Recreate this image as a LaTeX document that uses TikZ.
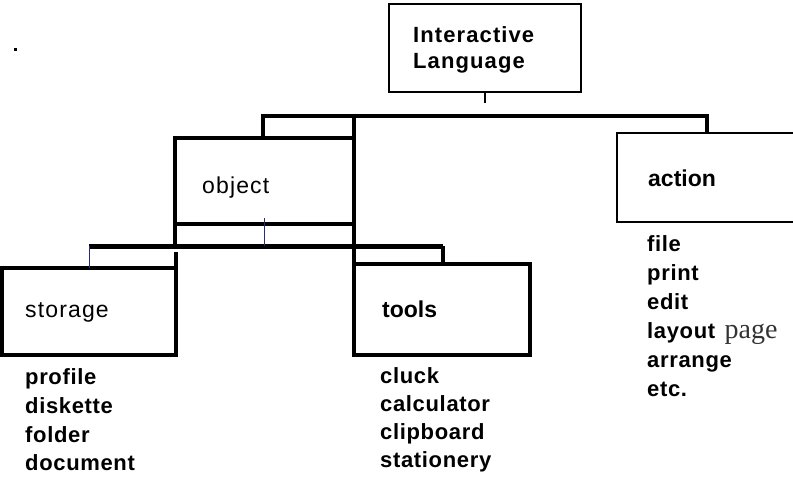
\documentclass[tikz,border=0pt]{standalone}
\usepackage{fontspec}
\setmainfont{Liberation Sans}
\newfontfamily\spacedfont{Liberation Sans}[LetterSpace=5]
\newfontfamily\listfont{Liberation Sans}[LetterSpace=3]
\newfontfamily\seriffont{Liberation Serif}
\definecolor{inkblue}{HTML}{2A2A7A}
\tikzset{
  frame/.style={draw, line width=#1, inner sep=0pt, outer sep=0pt, anchor=north west},
  heavy/.style={line width=4pt},
  heavier/.style={line width=5pt},
  hair/.style={line width=1pt, draw=inkblue},
  tickline/.style={line width=1.3pt},
  titlelabel/.style={anchor=base west, inner sep=0pt, font=\spacedfont\bfseries\fontsize{22}{26}\selectfont},
  boxlabel/.style={anchor=base west, inner sep=0pt, font=\spacedfont\fontsize{23}{26}\selectfont},
  boldlabel/.style={anchor=base west, inner sep=0pt, font=\bfseries\fontsize{23}{26}\selectfont},
  item/.style={anchor=base west, inner sep=0pt, font=\listfont\bfseries\fontsize{22}{29}\selectfont},
}
\begin{document}
\begin{tikzpicture}[x=1pt, y=-1pt]
  \useasboundingbox[fill=white] (0,0) rectangle (793,482);

  % stray mark at upper left
  \fill (13.5,47.5) rectangle (16.5,50.5);

  % boxes
  \node[frame=2pt, minimum width=192pt, minimum height=88pt] (top) at (389,4) {};
  \node[frame=4pt, minimum width=179pt, minimum height=86pt] (obj) at (175,138) {};
  \node[inner sep=0pt, outer sep=0pt, anchor=north west, minimum width=176pt, minimum height=89pt] (act) at (617,133) {};
  \node[frame=4pt, minimum width=174.5pt, minimum height=87pt] (store) at (1.5,268) {};
  \node[frame=4pt, minimum width=176pt, minimum height=91pt] (tools) at (354,264) {};

  % action box, open towards the right edge
  \draw[line width=2.5pt] (act.north east) -- (act.north west) -- (act.south west) -- (act.south east);

  % labels inside the boxes
  \node[titlelabel] (tl1) at (413,42) {Interactive};
  \node[titlelabel] (tl2) at (413,68) {Language};
  \node[boxlabel] (objlbl) at (202,193) {object};
  \node[boldlabel] (actlbl) at (648,186) {action};
  \node[boxlabel] (storelbl) at (25,317) {storage};
  \node[boldlabel] (toolslbl) at (382,317) {tools};

  % connectors from the top box
  \coordinate (tickend) at (485,103);
  \draw[tickline] (top.south) -- (tickend);
  \coordinate (busL) at (263,116);
  \coordinate (busR) at (707,116);
  \draw[heavy] (obj.north -| busL) -- (busL) -- (busR) -- (act.north -| busR);
  \draw[heavy] (busL -| obj.east) -- (tools.north west);

  % connectors below the object box
  \coordinate (lbL) at (89,246);
  \coordinate (lbR) at (443,246);
  \draw[heavier] (lbL) -- (lbR);
  \draw[heavy] (lbR) -- (tools.north -| lbR);
  \draw[heavy] (obj.south west) -- (obj.south west |- lbL);
  \draw[hair] (lbL) -- (store.north -| lbL);
  \coordinate (objstub) at (264,218);
  \draw[hair] (objstub) -- (objstub |- lbL);
  \coordinate (storetop) at (176,252);
  \draw[heavy] (store.north east) -- (storetop);

  % item lists
  \node[item] (s1) at (25,384) {profile};
  \node[item] (s2) at (25,413) {diskette};
  \node[item] (s3) at (25,442) {folder};
  \node[item] (s4) at (25,470) {document};

  \node[item] (t1) at (380,383) {cluck};
  \node[item] (t2) at (380,411) {calculator};
  \node[item] (t3) at (380,439) {clipboard};
  \node[item] (t4) at (380,467) {stationery};

  \node[item] (a1) at (647,251) {file};
  \node[item] (a2) at (647,280) {print};
  \node[item] (a3) at (647,309) {edit};
  \node[item] (a4) at (647,338) {layout};
  \node[anchor=base west, inner sep=0pt, font=\seriffont\fontsize{28}{29}\selectfont, text=black!80, xshift=9pt] (a4b) at (a4.base east) {page};
  \node[item] (a5) at (647,367) {arrange};
  \node[item] (a6) at (647,396) {etc.};
\end{tikzpicture}
\end{document}
